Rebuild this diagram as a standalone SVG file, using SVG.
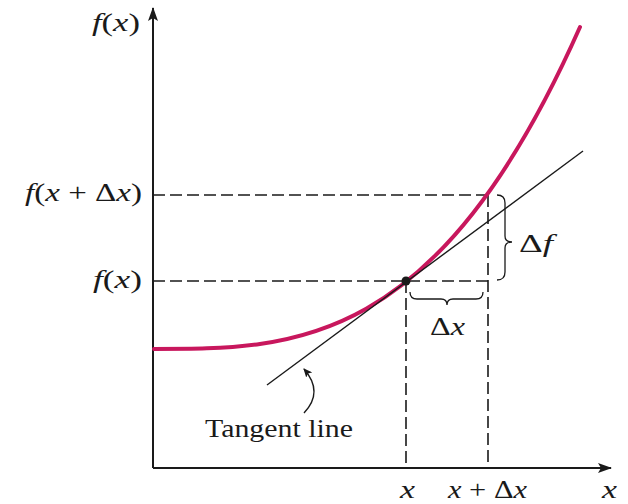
<svg xmlns="http://www.w3.org/2000/svg" width="628" height="504" viewBox="0 0 628 504">
<style>
.ax{stroke:#1a1a1a;stroke-width:2;fill:none}
.dash{stroke:#1a1a1a;stroke-width:1.6;fill:none;stroke-dasharray:12 5}
.thin{stroke:#1a1a1a;stroke-width:1.4;fill:none}
.brace{stroke:#1a1a1a;stroke-width:1.3;fill:none}
.curve{stroke:#c8175d;stroke-width:4;fill:none;stroke-linecap:round}
text{font-family:"Liberation Serif","Times New Roman",serif;font-size:25px;fill:#1a1a1a}
.i{font-style:italic}
</style>
<defs>
<marker id="ah" markerWidth="14" markerHeight="10" refX="13" refY="5" orient="auto" markerUnits="userSpaceOnUse">
<path d="M0,0 L14,5 L0,10 L3,5 Z" fill="#1a1a1a"/>
</marker>
<marker id="sm" markerWidth="9" markerHeight="8" refX="8" refY="4" orient="auto" markerUnits="userSpaceOnUse">
<path d="M0,0 L9,4 L0,8 L2,4 Z" fill="#1a1a1a"/>
</marker>
</defs>
<g id="guides">
<path class="dash" d="M153,195 H488"/>
<path class="dash" d="M153,281 H488"/>
<path class="dash" d="M406,281 V468"/>
<path class="dash" d="M488,195 V468"/>
</g>
<g id="axes">
<path class="ax" d="M153,468 V8" marker-end="url(#ah)"/>
<path class="ax" d="M153,468 H611" marker-end="url(#ah)"/>
</g>
<g id="curve">
<path class="curve" d="M154,349 C295,349 437,349 580,27"/>
</g>
<g id="tangent">
<path class="thin" d="M267,385 L583,151"/>
</g>
<g id="point">
<circle cx="406" cy="281" r="4.5" fill="#1a1a1a"/>
</g>
<g id="braces">
<path class="brace" d="M497,195 Q505,195 505,203 L505,236 Q505,242 512,242 Q505,242 505,248 L505,272 Q505,280 497,280"/>
<path class="brace" d="M410,292 Q410,299 417,299 L441,299 Q447,299 447,305 Q447,299 453,299 L476,299 Q483,299 483,292"/>
</g>
<g id="connectors">
<path class="thin" d="M304,413 Q324,392 304,369" marker-end="url(#sm)"/>
</g>
<g id="labels">
<text x="92" y="31" textLength="48" lengthAdjust="spacingAndGlyphs"><tspan class="i">f</tspan>(<tspan class="i">x</tspan>)</text>
<text x="25" y="201" textLength="117" lengthAdjust="spacingAndGlyphs"><tspan class="i">f</tspan>(<tspan class="i">x</tspan> + Δ<tspan class="i">x</tspan>)</text>
<text x="93" y="288" textLength="49" lengthAdjust="spacingAndGlyphs"><tspan class="i">f</tspan>(<tspan class="i">x</tspan>)</text>
<text x="519" y="252" textLength="34" lengthAdjust="spacingAndGlyphs">Δ<tspan class="i">f</tspan></text>
<text x="430" y="335" textLength="35" lengthAdjust="spacingAndGlyphs">Δ<tspan class="i">x</tspan></text>
<text x="205" y="437" textLength="148" lengthAdjust="spacingAndGlyphs">Tangent line</text>
<text x="400" y="498" class="i" textLength="15" lengthAdjust="spacingAndGlyphs">x</text>
<text x="448" y="498" textLength="79" lengthAdjust="spacingAndGlyphs"><tspan class="i">x</tspan> + Δ<tspan class="i">x</tspan></text>
<text x="602" y="498" class="i" textLength="15" lengthAdjust="spacingAndGlyphs">x</text>
</g>
</svg>
